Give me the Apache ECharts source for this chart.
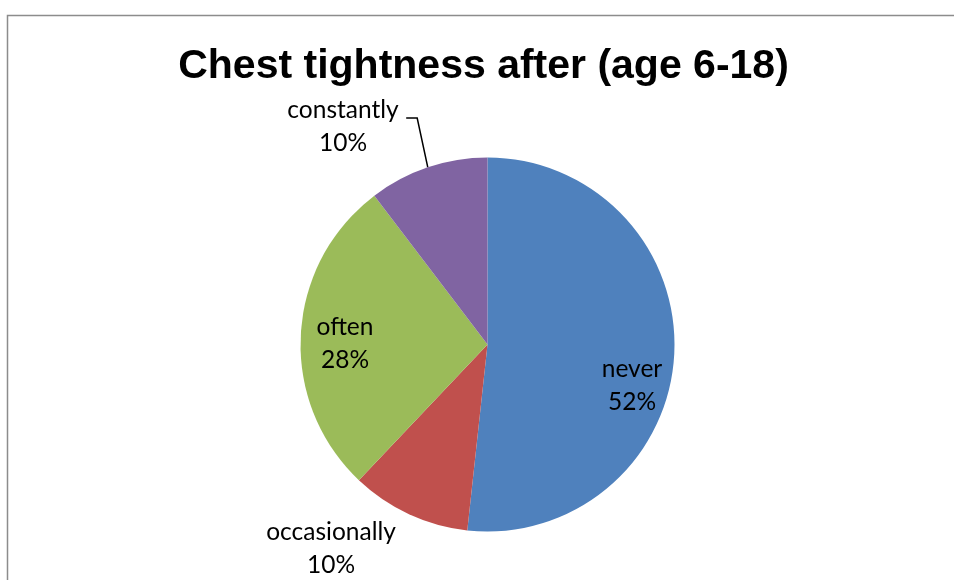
<!DOCTYPE html>
<html>
<head>
<meta charset="utf-8">
<script src="https://cdn.jsdelivr.net/npm/echarts@6/dist/echarts.min.js"></script>
<style>html,body{margin:0;padding:0;background:#fff;}#chart{width:954px;height:580px;}</style>
</head>
<body>
<div id="chart"></div>
<script>
const titleText = 'Chest tightness after (age 6-18)';
const categories = ['never', 'occasionally', 'often', 'constantly'];
const values = [15, 3, 8, 3];
const colors = ['#4F81BD', '#C0504D', '#9BBB59', '#8064A2'];
// label centres (layout only)
const labelPos = [[632, 386], [331, 549], [345, 344], [343, 127]];

const chart = echarts.init(document.getElementById('chart'), null, {renderer: 'canvas'});
const fontFam = 'Lato';
chart.setOption({
  animation: false,
  backgroundColor: '#fff',
  title: {
    text: titleText,
    left: 478.5,
    textAlign: 'center',
    top: 41,
    textStyle: {fontFamily: 'Liberation Sans', fontWeight: 'bold', fontSize: 41, color: '#000'}
  },
  graphic: [{
    type: 'rect', shape: {x: 7.5, y: 15.5, width: 1200, height: 1000},
    style: {fill: 'none', stroke: '#8c8c8c', lineWidth: 1.5}, silent: true
  }],
  series: [{
    type: 'pie',
    center: [487.5, 344.5],
    radius: 187,
    startAngle: 90,
    clockwise: true,
    data: categories.map((c, i) => ({
      name: c, value: values[i], itemStyle: {color: colors[i]},
      labelLine: {show: i === 3, lineStyle: {color: '#000', width: 1.5}}
    })),
    label: {
      show: true,
      position: 'outside',
      formatter: p => p.name + '\n' + Math.round(p.percent) + '%',
      fontFamily: fontFam, fontSize: 24.5, lineHeight: 33, color: '#000', align: 'center'
    },
    labelLine: {length: 52, length2: 11, smooth: false},
    labelLayout: p => {
      const o = {x: labelPos[p.dataIndex][0], y: labelPos[p.dataIndex][1], align: 'center', verticalAlign: 'middle'};
      const pts = p.labelLinePoints;
      if (pts && pts.length === 3) {
        o.labelLinePoints = [pts[0], [pts[1][0] + 6, pts[1][1]], [pts[2][0] + 6, pts[2][1]]];
      }
      return o;
    },
    itemStyle: {borderWidth: 0}
  }]
});
</script>
</body>
</html>
